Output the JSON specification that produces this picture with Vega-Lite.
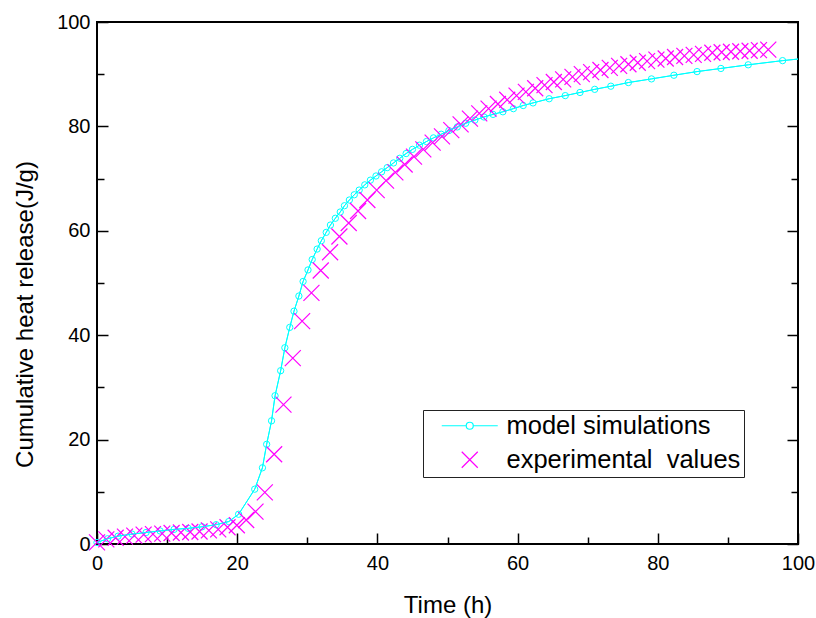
{
  "$schema": "https://vega.github.io/schema/vega-lite/v6.json",
  "width": 701,
  "height": 522,
  "autosize": {"type": "none"},
  "padding": {"left": 97, "top": 22, "right": 18, "bottom": 74},
  "background": "white",
  "config": {
    "view": {"stroke": "black", "strokeWidth": 2},
    "font": "Liberation Sans",
    "axis": {
      "domain": false,
      "grid": false,
      "tickColor": "black",
      "tickWidth": 1.5,
      "labelColor": "black",
      "labelFont": "Liberation Sans",
      "labelFontSize": 20,
      "labelOverlap": false,
      "labelFlush": false,
      "titleFont": "Liberation Sans",
      "titleFontSize": 24,
      "titleFontWeight": "normal",
      "titleColor": "black"
    }
  },
  "datasets": {
    "model": [
      {"t": 0, "v": 0.3}, {"t": 1.5, "v": 1.0}, {"t": 3, "v": 1.5}, {"t": 5, "v": 1.9}, {"t": 7, "v": 2.2},
      {"t": 9, "v": 2.5}, {"t": 11, "v": 2.8}, {"t": 13, "v": 3.0}, {"t": 15, "v": 3.3}, {"t": 17, "v": 3.7},
      {"t": 18.8, "v": 4.3}, {"t": 20.2, "v": 5.7}, {"t": 22.5, "v": 10.5}, {"t": 23.6, "v": 14.6}, {"t": 24.2, "v": 19.1},
      {"t": 24.9, "v": 23.6}, {"t": 25.4, "v": 28.4}, {"t": 26.2, "v": 33.2}, {"t": 26.8, "v": 37.6}, {"t": 27.5, "v": 41.5},
      {"t": 28.1, "v": 44.6}, {"t": 28.8, "v": 47.5}, {"t": 29.4, "v": 50.3}, {"t": 30.1, "v": 52.5}, {"t": 30.7, "v": 54.5},
      {"t": 31.4, "v": 56.5}, {"t": 32.0, "v": 58.1}, {"t": 32.7, "v": 59.7}, {"t": 33.3, "v": 61.1}, {"t": 34.0, "v": 62.4},
      {"t": 34.7, "v": 63.6}, {"t": 35.3, "v": 64.8}, {"t": 36.0, "v": 65.9}, {"t": 36.7, "v": 66.9}, {"t": 37.4, "v": 67.8},
      {"t": 38.2, "v": 68.8}, {"t": 39.0, "v": 69.7}, {"t": 39.8, "v": 70.5}, {"t": 40.6, "v": 71.3}, {"t": 41.4, "v": 72.1},
      {"t": 42.3, "v": 73.0}, {"t": 43.2, "v": 73.9}, {"t": 44.1, "v": 74.8}, {"t": 45.0, "v": 75.6}, {"t": 46.0, "v": 76.4},
      {"t": 47.0, "v": 77.1}, {"t": 48.0, "v": 77.8}, {"t": 49.1, "v": 78.5}, {"t": 50.2, "v": 79.2}, {"t": 51.4, "v": 79.9},
      {"t": 52.6, "v": 80.6}, {"t": 53.9, "v": 81.2}, {"t": 55.2, "v": 81.8}, {"t": 56.5, "v": 82.3}, {"t": 57.9, "v": 82.8},
      {"t": 59.4, "v": 83.4}, {"t": 60.8, "v": 84.0}, {"t": 62.2, "v": 84.5}, {"t": 64.5, "v": 85.3}, {"t": 66.8, "v": 85.9},
      {"t": 68.9, "v": 86.5}, {"t": 71.0, "v": 87.1}, {"t": 73.3, "v": 87.7}, {"t": 75.8, "v": 88.4}, {"t": 79.1, "v": 89.1},
      {"t": 82.3, "v": 89.8}, {"t": 85.6, "v": 90.5}, {"t": 89.0, "v": 91.1}, {"t": 92.9, "v": 91.8}, {"t": 97.8, "v": 92.6},
      {"t": 100, "v": 92.9}
    ],
    "exp": [
      {"t": 0, "v": 0.3}, {"t": 1.33, "v": 0.9}, {"t": 2.66, "v": 1.2}, {"t": 3.99, "v": 1.4}, {"t": 5.32, "v": 1.6},
      {"t": 6.65, "v": 1.8}, {"t": 7.98, "v": 1.9}, {"t": 9.31, "v": 2.0}, {"t": 10.64, "v": 2.1}, {"t": 11.97, "v": 2.2},
      {"t": 13.3, "v": 2.3}, {"t": 14.63, "v": 2.4}, {"t": 15.96, "v": 2.6}, {"t": 17.29, "v": 2.8}, {"t": 18.62, "v": 3.2},
      {"t": 19.95, "v": 3.6}, {"t": 21.28, "v": 4.6}, {"t": 22.61, "v": 6.2}, {"t": 23.94, "v": 9.9}, {"t": 25.27, "v": 17.2},
      {"t": 26.6, "v": 26.7}, {"t": 27.93, "v": 35.6}, {"t": 29.26, "v": 42.7}, {"t": 30.59, "v": 48.1}, {"t": 31.92, "v": 52.4},
      {"t": 33.25, "v": 55.9}, {"t": 34.58, "v": 58.9}, {"t": 35.91, "v": 61.5}, {"t": 37.24, "v": 63.8}, {"t": 38.57, "v": 65.9},
      {"t": 39.9, "v": 67.8}, {"t": 41.23, "v": 69.6}, {"t": 42.56, "v": 71.2}, {"t": 43.89, "v": 72.7}, {"t": 45.22, "v": 74.2},
      {"t": 46.55, "v": 75.6}, {"t": 47.88, "v": 76.9}, {"t": 49.21, "v": 78.1}, {"t": 50.54, "v": 79.3}, {"t": 51.87, "v": 80.4},
      {"t": 53.2, "v": 81.5}, {"t": 54.53, "v": 82.5}, {"t": 55.86, "v": 83.4}, {"t": 57.19, "v": 84.3}, {"t": 58.52, "v": 85.1},
      {"t": 59.85, "v": 85.9}, {"t": 61.18, "v": 86.6}, {"t": 62.51, "v": 87.3}, {"t": 63.84, "v": 87.9}, {"t": 65.17, "v": 88.5},
      {"t": 66.5, "v": 89.0}, {"t": 67.83, "v": 89.5}, {"t": 69.16, "v": 90.0}, {"t": 70.49, "v": 90.4}, {"t": 71.82, "v": 90.8},
      {"t": 73.15, "v": 91.2}, {"t": 74.48, "v": 91.6}, {"t": 75.81, "v": 91.9}, {"t": 77.14, "v": 92.2}, {"t": 78.47, "v": 92.5},
      {"t": 79.8, "v": 92.8}, {"t": 81.13, "v": 93.0}, {"t": 82.46, "v": 93.3}, {"t": 83.79, "v": 93.5}, {"t": 85.12, "v": 93.7},
      {"t": 86.45, "v": 93.9}, {"t": 87.78, "v": 94.1}, {"t": 89.11, "v": 94.2}, {"t": 90.44, "v": 94.3}, {"t": 91.77, "v": 94.4},
      {"t": 93.1, "v": 94.5}, {"t": 94.43, "v": 94.6}, {"t": 95.76, "v": 94.7}
    ]
  },
  "layer": [
    {
      "data": {"name": "model"},
      "mark": {"type": "line", "color": "#00FFFF", "strokeWidth": 1, "clip": true},
      "encoding": {
        "x": {
          "field": "t", "type": "quantitative",
          "scale": {"domain": [0, 100], "nice": false},
          "axis": {
            "orient": "bottom",
            "values": [0, 20, 40, 60, 80, 100],
            "tickSize": -11,
            "labelPadding": 20,
            "title": "Time (h)",
            "titlePadding": 20
          }
        },
        "y": {
          "field": "v", "type": "quantitative",
          "scale": {"domain": [0, 100], "nice": false},
          "axis": {
            "orient": "left",
            "values": [0, 20, 40, 60, 80, 100],
            "tickSize": -11,
            "labelPadding": 18,
            "title": "Cumulative heat release(J/g)",
            "titleX": -65,
            "titleY": 292,
            "titleAngle": -90,
            "titleAlign": "center",
            "titleBaseline": "alphabetic"
          }
        }
      }
    },
    {
      "data": {"name": "model"},
      "transform": [{"filter": "datum.t < 99"}],
      "mark": {"type": "point", "shape": "circle", "size": 40, "filled": false, "stroke": "#00FFFF", "strokeWidth": 1, "opacity": 1},
      "encoding": {
        "x": {
          "field": "t", "type": "quantitative",
          "axis": {"orient": "bottom", "values": [10, 30, 50, 70, 90], "tickSize": -7, "labels": false, "title": null}
        },
        "y": {
          "field": "v", "type": "quantitative",
          "axis": {"orient": "left", "values": [10, 30, 50, 70, 90], "tickSize": -7, "labels": false, "title": null}
        }
      }
    },
    {
      "data": {"name": "exp"},
      "transform": [{"calculate": "'experimental\u00a0 values'", "as": "series"}],
      "mark": {"type": "point", "filled": false, "size": 256, "strokeWidth": 1.2, "opacity": 1},
      "encoding": {
        "x": {"field": "t", "type": "quantitative", "axis": null},
        "y": {
          "field": "v", "type": "quantitative",
          "axis": {"orient": "right", "values": [0, 20, 40, 60, 80, 100], "tickSize": -11, "labels": false, "title": null}
        },
        "color": {
          "field": "series", "type": "nominal",
          "scale": {"domain": ["model simulations", "experimental\u00a0 values"], "range": ["#00FFFF", "#FF00FF"]},
          "legend": {
            "title": null, "orient": "none", "legendX": 326, "legendY": 388,
            "padding": 3, "strokeColor": "#222222", "fillColor": "white",
            "labelFont": "Liberation Sans", "labelFontSize": 25.5, "labelColor": "black", "labelLimit": 0,
            "symbolSize": 256, "symbolStrokeWidth": 1.2, "symbolOffset": 31, "labelOffset": 24, "rowPadding": 7
          }
        },
        "shape": {
          "field": "series", "type": "nominal",
          "scale": {"domain": ["model simulations", "experimental\u00a0 values"], "range": ["M-3.5,0L-0.44,0M0.44,0L3.5,0M-0.44,0A0.44,0.44 0 1,0 0.44,0A0.44,0.44 0 1,0 -0.44,0", "M-1,-1L1,1M1,-1L-1,1"]},
          "legend": {
            "title": null, "orient": "none", "legendX": 326, "legendY": 388,
            "padding": 3, "strokeColor": "#222222", "fillColor": "white",
            "labelFont": "Liberation Sans", "labelFontSize": 25.5, "labelColor": "black", "labelLimit": 0,
            "symbolSize": 256, "symbolStrokeWidth": 1.2, "symbolOffset": 31, "labelOffset": 24, "rowPadding": 7
          }
        }
      }
    },
    {
      "data": {"name": "model"},
      "mark": {"type": "line", "color": "#00FFFF", "strokeWidth": 1, "clip": true},
      "encoding": {
        "x": {"field": "t", "type": "quantitative", "axis": null},
        "y": {
          "field": "v", "type": "quantitative",
          "axis": {"orient": "right", "values": [10, 30, 50, 70, 90], "tickSize": -7, "labels": false, "title": null}
        }
      }
    }
  ],
  "resolve": {"axis": {"x": "independent", "y": "independent"}}
}
